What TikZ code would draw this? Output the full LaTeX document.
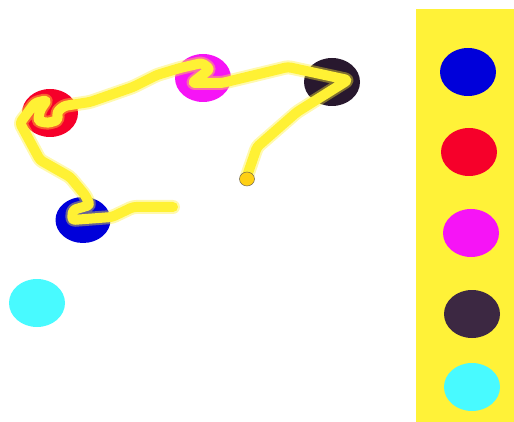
\documentclass[tikz,border=0pt]{standalone}
\usepackage{xcolor}
\usetikzlibrary{calc}
\definecolor{panelYellow}{RGB}{255,242,56}
\definecolor{strokeYellow}{RGB}{255,241,52}
\definecolor{dotGold}{RGB}{255,208,20}
\definecolor{dotEdge}{RGB}{110,100,80}
\definecolor{inkBlue}{RGB}{0,0,218}
\definecolor{inkRed}{RGB}{246,0,42}
\definecolor{inkMagenta}{RGB}{246,20,246}
\definecolor{inkDark}{RGB}{40,24,46}
\definecolor{inkDarkSoft}{RGB}{60,40,66}
\definecolor{inkCyan}{RGB}{72,250,255}

\begin{document}
\begin{tikzpicture}[x=1pt,y=-1pt,
    blob/.style={fill=#1},
    trace/.style={draw=strokeYellow, line width=10pt, line cap=round, line join=round, rounded corners=3pt},
    halo/.style={draw=strokeYellow, line width=14pt, line cap=round, line join=round, rounded corners=3pt, opacity=0.4}]

    \useasboundingbox (0,0) rectangle (514,422);

    % =========================
    % Right panel: colour palette
    % =========================
    \fill[panelYellow] (416,9) rectangle (514,422);
    \foreach \cx/\cy/\col in {468/72/inkBlue, 469/152/inkRed, 471/233/inkMagenta,
                              472/314/inkDarkSoft, 472/387/inkCyan}
        \fill[blob=\col] (\cx,\cy) ellipse (28 and 24);

    % =========================
    % Canvas: painted blobs
    % =========================
    \fill[blob=inkRed] (50,113) ellipse (28 and 24);
    \fill[blob=inkMagenta] (203,78) ellipse (28 and 24);
    \fill[blob=inkDark] (332,82) ellipse (28 and 24);
    \fill[blob=inkBlue] (83,220) ellipse (27.5 and 23);
    \fill[blob=inkCyan] (37,303) ellipse (28 and 24);

    % brush trace through the blobs
    \foreach \sty in {halo,trace}
        \draw[\sty] (173,207) -- (133,207) -- (112,217) -- (72,220) -- (73,210)
            -- (90,205) -- (85,195) -- (70,177) -- (40,160) -- (33,147) -- (20,123)
            -- (35,103) -- (47,100) -- (40,110) -- (38,121) -- (48,123) -- (58,120)
            -- (57,112) -- (64,106) -- (90,102) -- (133,87) -- (157,75) -- (180,68)
            -- (202,63) -- (210,69) -- (192,83) -- (222,83) -- (288,67) -- (348,80)
            -- (297,112) -- (257,147) -- (247,176);

    % brush tip
    \filldraw[fill=dotGold, draw=dotEdge, line width=0.5pt] (247,179) ellipse (7.5 and 7);

\end{tikzpicture}
\end{document}
